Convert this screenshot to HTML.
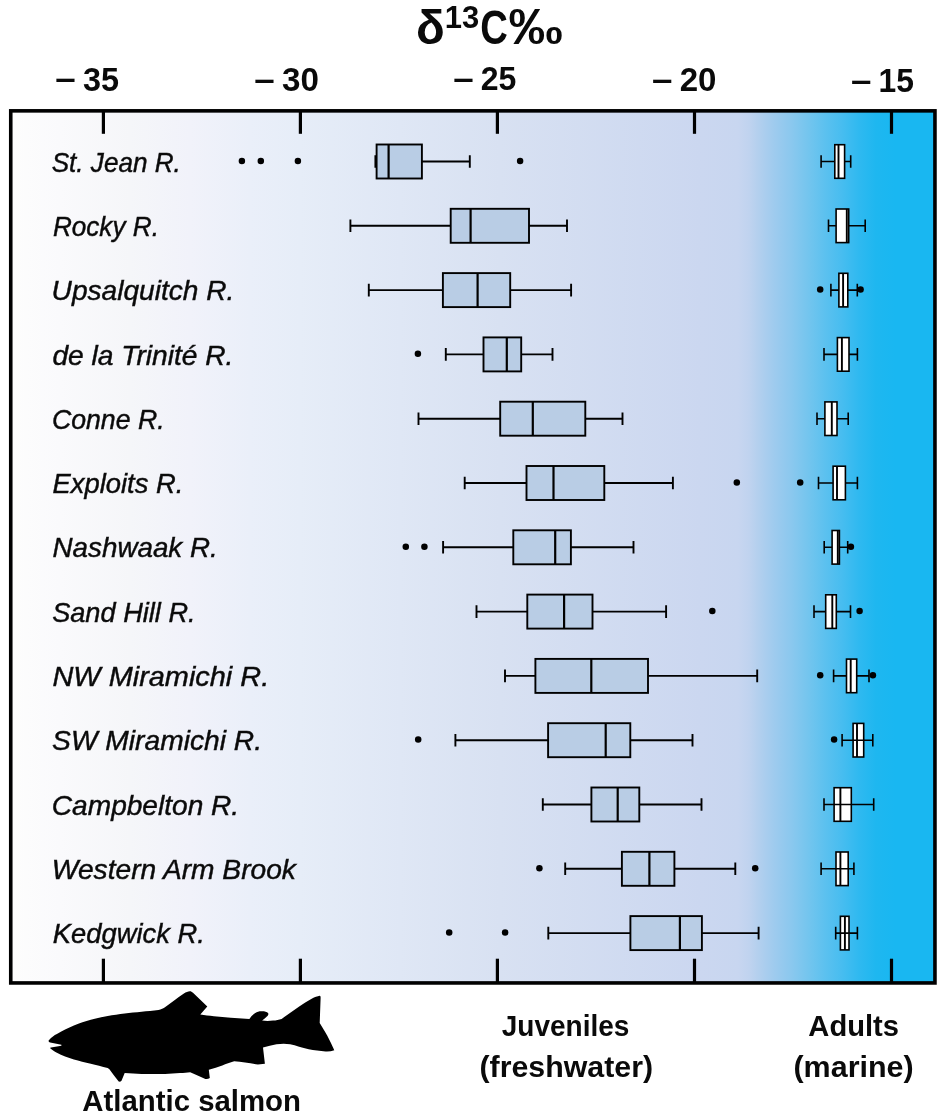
<!DOCTYPE html>
<html lang="en"><head><meta charset="utf-8"><title>δ13C‰ Atlantic salmon</title>
<style>html,body{margin:0;padding:0;background:#fff}svg{display:block}text{font-family:"Liberation Sans",sans-serif;fill:#0a0a0a}.b{font-weight:bold}.i{font-style:italic}</style></head><body>
<svg width="945" height="1120" viewBox="0 0 945 1120">
<defs><linearGradient id="g" gradientUnits="userSpaceOnUse" x1="10" y1="0" x2="935" y2="0">
<stop offset="0.0000" stop-color="#fdfdfd"/>
<stop offset="0.0541" stop-color="#fafafc"/>
<stop offset="0.1297" stop-color="#f5f6f9"/>
<stop offset="0.1946" stop-color="#f1f2fa"/>
<stop offset="0.2595" stop-color="#eaeff9"/>
<stop offset="0.3135" stop-color="#e6edf8"/>
<stop offset="0.5297" stop-color="#d8e1f2"/>
<stop offset="0.7459" stop-color="#cbd7f0"/>
<stop offset="0.7870" stop-color="#c8d6f0"/>
<stop offset="0.7989" stop-color="#c0d3ef"/>
<stop offset="0.8076" stop-color="#b5d0ee"/>
<stop offset="0.8259" stop-color="#9fcbee"/>
<stop offset="0.8443" stop-color="#8bc8ee"/>
<stop offset="0.8627" stop-color="#74c5ee"/>
<stop offset="0.8811" stop-color="#5cc1ef"/>
<stop offset="0.8995" stop-color="#47bdf0"/>
<stop offset="0.9178" stop-color="#2fb9f0"/>
<stop offset="0.9362" stop-color="#1eb7f0"/>
<stop offset="0.9568" stop-color="#19b7f1"/>
<stop offset="1.0000" stop-color="#19b7f1"/>
</linearGradient></defs>
<rect x="0" y="0" width="945" height="1120" fill="#fff"/>
<rect x="10.75" y="110.85" width="924.2" height="872.1" fill="url(#g)" stroke="#000" stroke-width="3.6"/>
<line x1="103.4" y1="110.8" x2="103.4" y2="133.8" stroke="#000" stroke-width="3.2"/>
<line x1="103.4" y1="958.7" x2="103.4" y2="983" stroke="#000" stroke-width="3.2"/>
<line x1="300.4" y1="110.8" x2="300.4" y2="133.8" stroke="#000" stroke-width="3.2"/>
<line x1="300.4" y1="958.7" x2="300.4" y2="983" stroke="#000" stroke-width="3.2"/>
<line x1="497.4" y1="110.8" x2="497.4" y2="133.8" stroke="#000" stroke-width="3.2"/>
<line x1="497.4" y1="958.7" x2="497.4" y2="983" stroke="#000" stroke-width="3.2"/>
<line x1="694.5" y1="110.8" x2="694.5" y2="133.8" stroke="#000" stroke-width="3.2"/>
<line x1="694.5" y1="958.7" x2="694.5" y2="983" stroke="#000" stroke-width="3.2"/>
<line x1="891.5" y1="110.8" x2="891.5" y2="133.8" stroke="#000" stroke-width="3.2"/>
<line x1="891.5" y1="958.7" x2="891.5" y2="983" stroke="#000" stroke-width="3.2"/>
<text class="b"><tspan x="55.39" y="89.4" font-size="33.3" textLength="20.44" lengthAdjust="spacingAndGlyphs">–</tspan><tspan> </tspan><tspan x="83.06" y="90.8" font-size="33.3" textLength="36.05" lengthAdjust="spacingAndGlyphs">35</tspan></text>
<text class="b"><tspan x="254.39" y="89.6" font-size="33.3" textLength="20.44" lengthAdjust="spacingAndGlyphs">–</tspan><tspan> </tspan><tspan x="282.04" y="91.0" font-size="33.3" textLength="36.92" lengthAdjust="spacingAndGlyphs">30</tspan></text>
<text class="b"><tspan x="453.29" y="88.8" font-size="33.3" textLength="20.44" lengthAdjust="spacingAndGlyphs">–</tspan><tspan> </tspan><tspan x="480.69" y="90.2" font-size="33.3" textLength="35.60" lengthAdjust="spacingAndGlyphs">25</tspan></text>
<text class="b"><tspan x="651.99" y="89.9" font-size="33.3" textLength="20.44" lengthAdjust="spacingAndGlyphs">–</tspan><tspan> </tspan><tspan x="679.65" y="91.3" font-size="33.3" textLength="36.80" lengthAdjust="spacingAndGlyphs">20</tspan></text>
<text class="b"><tspan x="850.99" y="90.6" font-size="33.3" textLength="20.44" lengthAdjust="spacingAndGlyphs">–</tspan><tspan> </tspan><tspan x="878.60" y="92.0" font-size="33.3" textLength="35.39" lengthAdjust="spacingAndGlyphs">15</tspan></text>
<text class="b"><tspan x="416.11" y="43.9" font-size="49" textLength="28.79" lengthAdjust="spacingAndGlyphs">δ</tspan><tspan x="444.75" y="28.0" font-size="31.4" textLength="34.47" lengthAdjust="spacingAndGlyphs">13</tspan><tspan x="480.13" y="43.6" font-size="47.3" textLength="27.61" lengthAdjust="spacingAndGlyphs">C</tspan><tspan x="508.51" y="44.2" font-size="49.5" textLength="54.27" lengthAdjust="spacingAndGlyphs">‰</tspan></text>
<text class="i" x="51.66" y="171.8" font-size="28" textLength="129.14" lengthAdjust="spacingAndGlyphs" stroke="#111" stroke-width="0.45">St. Jean R.</text>
<text class="i" x="52.90" y="236.1" font-size="28" textLength="106.01" lengthAdjust="spacingAndGlyphs" stroke="#111" stroke-width="0.45">Rocky R.</text>
<text class="i" x="51.60" y="300.3" font-size="28" textLength="182.74" lengthAdjust="spacingAndGlyphs" stroke="#111" stroke-width="0.45">Upsalquitch R.</text>
<text class="i" x="52.45" y="364.6" font-size="28" textLength="181.00" lengthAdjust="spacingAndGlyphs" stroke="#111" stroke-width="0.45">de la Trinité R.</text>
<text class="i" x="51.93" y="428.9" font-size="28" textLength="112.74" lengthAdjust="spacingAndGlyphs" stroke="#111" stroke-width="0.45">Conne R.</text>
<text class="i" x="52.56" y="493.1" font-size="28" textLength="130.80" lengthAdjust="spacingAndGlyphs" stroke="#111" stroke-width="0.45">Exploits R.</text>
<text class="i" x="52.55" y="557.4" font-size="28" textLength="165.16" lengthAdjust="spacingAndGlyphs" stroke="#111" stroke-width="0.45">Nashwaak R.</text>
<text class="i" x="52.13" y="621.7" font-size="28" textLength="143.50" lengthAdjust="spacingAndGlyphs" stroke="#111" stroke-width="0.45">Sand Hill R.</text>
<text class="i" x="52.51" y="686.0" font-size="28" textLength="216.73" lengthAdjust="spacingAndGlyphs" stroke="#111" stroke-width="0.45">NW Miramichi R.</text>
<text class="i" x="52.10" y="750.2" font-size="28" textLength="209.96" lengthAdjust="spacingAndGlyphs" stroke="#111" stroke-width="0.45">SW Miramichi R.</text>
<text class="i" x="51.85" y="814.5" font-size="28" textLength="187.29" lengthAdjust="spacingAndGlyphs" stroke="#111" stroke-width="0.45">Campbelton R.</text>
<text class="i" x="51.87" y="878.8" font-size="28" textLength="244.05" lengthAdjust="spacingAndGlyphs" stroke="#111" stroke-width="0.45">Western Arm Brook</text>
<text class="i" x="52.86" y="943.0" font-size="28" textLength="151.89" lengthAdjust="spacingAndGlyphs" stroke="#111" stroke-width="0.45">Kedgwick R.</text>
<text class="b" x="82.37" y="1110.6" font-size="29.8" textLength="218.65" lengthAdjust="spacingAndGlyphs">Atlantic salmon</text>
<text class="b" x="501.78" y="1036.4" font-size="29.8" textLength="127.67" lengthAdjust="spacingAndGlyphs">Juveniles</text>
<text class="b" x="479.49" y="1076.8" font-size="29.8" textLength="173.62" lengthAdjust="spacingAndGlyphs">(freshwater)</text>
<text class="b" x="808.37" y="1036.0" font-size="29.8" textLength="90.62" lengthAdjust="spacingAndGlyphs">Adults</text>
<text class="b" x="793.48" y="1076.8" font-size="29.8" textLength="120.24" lengthAdjust="spacingAndGlyphs">(marine)</text>
<rect x="376.6" y="144.5" width="45.3" height="34.0" fill="#b9cde5" stroke="#000" stroke-width="1.9"/><line x1="388.6" y1="144.5" x2="388.6" y2="178.5" stroke="#000" stroke-width="2.2"/><path d="M375.4 161.5H376.6M421.9 161.5H469.8M375.4 155.2V167.8M469.8 155.2V167.8" stroke="#000" stroke-width="1.9" fill="none"/><circle cx="241.9" cy="160.9" r="3.25" fill="#000"/><circle cx="260.8" cy="160.9" r="3.25" fill="#000"/><circle cx="297.9" cy="160.9" r="3.25" fill="#000"/><circle cx="520.1" cy="160.9" r="3.25" fill="#000"/>
<rect x="834.8" y="144.7" width="9.8" height="33.6" fill="#fff" stroke="#000" stroke-width="1.6"/><line x1="838.5" y1="144.7" x2="838.5" y2="178.3" stroke="#000" stroke-width="1.9"/><path d="M821.1 161.5H834.8M844.6 161.5H850.7M821.1 155.2V167.8M850.7 155.2V167.8" stroke="#000" stroke-width="1.6" fill="none"/>
<rect x="450.7" y="208.8" width="78.3" height="34.0" fill="#b9cde5" stroke="#000" stroke-width="1.9"/><line x1="470.6" y1="208.8" x2="470.6" y2="242.8" stroke="#000" stroke-width="2.2"/><path d="M350.4 225.8H450.7M529.0 225.8H567.0M350.4 219.5V232.1M567.0 219.5V232.1" stroke="#000" stroke-width="1.9" fill="none"/>
<rect x="836.1" y="209.0" width="12.6" height="33.6" fill="#fff" stroke="#000" stroke-width="1.6"/><line x1="846.8" y1="209.0" x2="846.8" y2="242.6" stroke="#000" stroke-width="1.9"/><path d="M828.5 225.8H836.1M848.7 225.8H865.2M828.5 219.5V232.1M865.2 219.5V232.1" stroke="#000" stroke-width="1.6" fill="none"/>
<rect x="442.9" y="273.1" width="67.3" height="34.0" fill="#b9cde5" stroke="#000" stroke-width="1.9"/><line x1="477.6" y1="273.1" x2="477.6" y2="307.1" stroke="#000" stroke-width="2.2"/><path d="M368.8 290.1H442.9M510.2 290.1H571.1M368.8 283.8V296.4M571.1 283.8V296.4" stroke="#000" stroke-width="1.9" fill="none"/>
<rect x="838.9" y="273.3" width="8.9" height="33.6" fill="#fff" stroke="#000" stroke-width="1.6"/><line x1="843.1" y1="273.3" x2="843.1" y2="306.9" stroke="#000" stroke-width="1.9"/><path d="M830.9 290.1H838.9M847.8 290.1H857.3M830.9 283.8V296.4M857.3 283.8V296.4" stroke="#000" stroke-width="1.6" fill="none"/><circle cx="820.2" cy="289.5" r="3.25" fill="#000"/><circle cx="860.6" cy="289.5" r="3.25" fill="#000"/>
<rect x="483.5" y="337.4" width="37.7" height="34.0" fill="#b9cde5" stroke="#000" stroke-width="1.9"/><line x1="506.8" y1="337.4" x2="506.8" y2="371.4" stroke="#000" stroke-width="2.2"/><path d="M445.8 354.4H483.5M521.2 354.4H552.5M445.8 348.1V360.7M552.5 348.1V360.7" stroke="#000" stroke-width="1.9" fill="none"/><circle cx="417.9" cy="353.8" r="3.25" fill="#000"/>
<rect x="837.4" y="337.6" width="11.6" height="33.6" fill="#fff" stroke="#000" stroke-width="1.6"/><line x1="841.9" y1="337.6" x2="841.9" y2="371.2" stroke="#000" stroke-width="1.9"/><path d="M824.0 354.4H837.4M849.0 354.4H857.4M824.0 348.1V360.7M857.4 348.1V360.7" stroke="#000" stroke-width="1.6" fill="none"/>
<rect x="500.2" y="401.7" width="85.1" height="34.0" fill="#b9cde5" stroke="#000" stroke-width="1.9"/><line x1="532.8" y1="401.7" x2="532.8" y2="435.7" stroke="#000" stroke-width="2.2"/><path d="M418.5 418.7H500.2M585.3 418.7H622.5M418.5 412.4V425.0M622.5 412.4V425.0" stroke="#000" stroke-width="1.9" fill="none"/>
<rect x="824.9" y="401.9" width="12.1" height="33.6" fill="#fff" stroke="#000" stroke-width="1.6"/><line x1="831.8" y1="401.9" x2="831.8" y2="435.5" stroke="#000" stroke-width="1.9"/><path d="M817.0 418.7H824.9M837.0 418.7H848.2M817.0 412.4V425.0M848.2 412.4V425.0" stroke="#000" stroke-width="1.6" fill="none"/>
<rect x="526.5" y="466.0" width="77.8" height="34.0" fill="#b9cde5" stroke="#000" stroke-width="1.9"/><line x1="553.5" y1="466.0" x2="553.5" y2="500.0" stroke="#000" stroke-width="2.2"/><path d="M464.7 483.0H526.5M604.3 483.0H672.9M464.7 476.7V489.3M672.9 476.7V489.3" stroke="#000" stroke-width="1.9" fill="none"/><circle cx="736.8" cy="482.4" r="3.25" fill="#000"/>
<rect x="833.1" y="466.2" width="12.3" height="33.6" fill="#fff" stroke="#000" stroke-width="1.6"/><line x1="837.0" y1="466.2" x2="837.0" y2="499.8" stroke="#000" stroke-width="1.9"/><path d="M818.5 483.0H833.1M845.4 483.0H857.4M818.5 476.7V489.3M857.4 476.7V489.3" stroke="#000" stroke-width="1.6" fill="none"/><circle cx="800.2" cy="482.4" r="3.25" fill="#000"/>
<rect x="513.3" y="530.3" width="57.6" height="34.0" fill="#b9cde5" stroke="#000" stroke-width="1.9"/><line x1="555.2" y1="530.3" x2="555.2" y2="564.3" stroke="#000" stroke-width="2.2"/><path d="M443.1 547.3H513.3M570.9 547.3H633.5M443.1 541.0V553.6M633.5 541.0V553.6" stroke="#000" stroke-width="1.9" fill="none"/><circle cx="405.8" cy="546.7" r="3.25" fill="#000"/><circle cx="424.4" cy="546.7" r="3.25" fill="#000"/>
<rect x="832.1" y="530.5" width="7.3" height="33.6" fill="#fff" stroke="#000" stroke-width="1.6"/><line x1="837.8" y1="530.5" x2="837.8" y2="564.1" stroke="#000" stroke-width="1.9"/><path d="M824.2 547.3H832.1M839.4 547.3H847.7M824.2 541.0V553.6M847.7 541.0V553.6" stroke="#000" stroke-width="1.6" fill="none"/><circle cx="850.9" cy="546.7" r="3.25" fill="#000"/>
<rect x="527.3" y="594.6" width="65.2" height="34.0" fill="#b9cde5" stroke="#000" stroke-width="1.9"/><line x1="564.1" y1="594.6" x2="564.1" y2="628.6" stroke="#000" stroke-width="2.2"/><path d="M476.5 611.6H527.3M592.5 611.6H666.1M476.5 605.3V617.9M666.1 605.3V617.9" stroke="#000" stroke-width="1.9" fill="none"/><circle cx="712.3" cy="611.0" r="3.25" fill="#000"/>
<rect x="825.7" y="594.8" width="10.6" height="33.6" fill="#fff" stroke="#000" stroke-width="1.6"/><line x1="832.3" y1="594.8" x2="832.3" y2="628.4" stroke="#000" stroke-width="1.9"/><path d="M814.0 611.6H825.7M836.3 611.6H850.5M814.0 605.3V617.9M850.5 605.3V617.9" stroke="#000" stroke-width="1.6" fill="none"/><circle cx="859.6" cy="611.0" r="3.25" fill="#000"/>
<rect x="535.4" y="658.9" width="112.6" height="34.0" fill="#b9cde5" stroke="#000" stroke-width="1.9"/><line x1="591.3" y1="658.9" x2="591.3" y2="692.9" stroke="#000" stroke-width="2.2"/><path d="M505.0 675.9H535.4M648.0 675.9H757.2M505.0 669.6V682.2M757.2 669.6V682.2" stroke="#000" stroke-width="1.9" fill="none"/>
<rect x="846.5" y="659.1" width="10.2" height="33.6" fill="#fff" stroke="#000" stroke-width="1.6"/><line x1="850.7" y1="659.1" x2="850.7" y2="692.7" stroke="#000" stroke-width="1.9"/><path d="M833.6 675.9H846.5M856.7 675.9H869.0M833.6 669.6V682.2M869.0 669.6V682.2" stroke="#000" stroke-width="1.6" fill="none"/><circle cx="820.2" cy="675.3" r="3.25" fill="#000"/><circle cx="872.9" cy="675.3" r="3.25" fill="#000"/>
<rect x="548.1" y="723.2" width="82.2" height="34.0" fill="#b9cde5" stroke="#000" stroke-width="1.9"/><line x1="605.7" y1="723.2" x2="605.7" y2="757.2" stroke="#000" stroke-width="2.2"/><path d="M455.4 740.2H548.1M630.3 740.2H692.5M455.4 733.9V746.5M692.5 733.9V746.5" stroke="#000" stroke-width="1.9" fill="none"/><circle cx="418.2" cy="739.6" r="3.25" fill="#000"/>
<rect x="853.1" y="723.4" width="10.6" height="33.6" fill="#fff" stroke="#000" stroke-width="1.6"/><line x1="857.0" y1="723.4" x2="857.0" y2="757.0" stroke="#000" stroke-width="1.9"/><path d="M842.1 740.2H872.8M842.1 733.9V746.5M872.8 733.9V746.5" stroke="#000" stroke-width="1.6" fill="none"/><circle cx="834.1" cy="739.6" r="3.25" fill="#000"/>
<rect x="591.4" y="787.5" width="47.9" height="34.0" fill="#b9cde5" stroke="#000" stroke-width="1.9"/><line x1="617.7" y1="787.5" x2="617.7" y2="821.5" stroke="#000" stroke-width="2.2"/><path d="M542.8 804.5H591.4M639.3 804.5H701.5M542.8 798.2V810.8M701.5 798.2V810.8" stroke="#000" stroke-width="1.9" fill="none"/>
<rect x="834.1" y="787.7" width="17.2" height="33.6" fill="#fff" stroke="#000" stroke-width="1.6"/><line x1="840.4" y1="787.7" x2="840.4" y2="821.3" stroke="#000" stroke-width="1.9"/><path d="M824.0 804.5H873.7M824.0 798.2V810.8M873.7 798.2V810.8" stroke="#000" stroke-width="1.6" fill="none"/>
<rect x="621.9" y="851.8" width="52.5" height="34.0" fill="#b9cde5" stroke="#000" stroke-width="1.9"/><line x1="649.4" y1="851.8" x2="649.4" y2="885.8" stroke="#000" stroke-width="2.2"/><path d="M565.2 868.8H621.9M674.4 868.8H735.3M565.2 862.5V875.1M735.3 862.5V875.1" stroke="#000" stroke-width="1.9" fill="none"/><circle cx="539.4" cy="868.2" r="3.25" fill="#000"/><circle cx="755.2" cy="868.2" r="3.25" fill="#000"/>
<rect x="836.0" y="852.0" width="12.2" height="33.6" fill="#fff" stroke="#000" stroke-width="1.6"/><line x1="840.4" y1="852.0" x2="840.4" y2="885.6" stroke="#000" stroke-width="1.9"/><path d="M821.1 868.8H853.9M821.1 862.5V875.1M853.9 862.5V875.1" stroke="#000" stroke-width="1.6" fill="none"/>
<rect x="630.4" y="916.1" width="71.5" height="34.0" fill="#b9cde5" stroke="#000" stroke-width="1.9"/><line x1="679.9" y1="916.1" x2="679.9" y2="950.1" stroke="#000" stroke-width="2.2"/><path d="M548.3 933.1H630.4M701.9 933.1H758.6M548.3 926.8V939.4M758.6 926.8V939.4" stroke="#000" stroke-width="1.9" fill="none"/><circle cx="449.2" cy="932.5" r="3.25" fill="#000"/><circle cx="505.1" cy="932.5" r="3.25" fill="#000"/>
<rect x="840.4" y="916.3" width="8.6" height="33.6" fill="#fff" stroke="#000" stroke-width="1.6"/><line x1="844.9" y1="916.3" x2="844.9" y2="949.9" stroke="#000" stroke-width="1.9"/><path d="M835.7 933.1H857.4M835.7 926.8V939.4M857.4 926.8V939.4" stroke="#000" stroke-width="1.6" fill="none"/>
<path d="M48.8 1040.3 C52 1037 54 1035.5 56.9 1034.1 C62 1031 68 1028 73.9 1025.6 C80 1023 85 1021.3 90.8 1019.7 C96 1018.2 102 1017 107.7 1016 C113 1015 119 1014 124.7 1013.4 C130 1012.8 136 1012.3 141.6 1011.8 C147 1011.3 153 1011 158.5 1010.1 C161 1009.5 163.5 1008.3 165.3 1007 L175.5 999.4 C178 997.5 181 995.3 183.9 993.5 C186 992.3 188 991.4 189.9 991.3 C191 991.3 192 992 193 992.8 L207.3 1006.5 L200.3 1014.6 C205 1015.3 209 1015.9 213.9 1016.3 L230.8 1017.7 L249.4 1018.9 C251 1016.5 253 1014.3 255.3 1012.9 C257 1011.8 259 1011.2 261.3 1011.2 C264 1011.1 267 1011.5 268 1012.9 C268.8 1014 268.3 1015.3 267.2 1016.3 C265.6 1017.8 263.8 1019.3 262.1 1020.6 C265.5 1021 269.5 1021 273.1 1020.6 C276 1020.3 279 1019.8 281.6 1018.9 C287 1015 293 1011 298.5 1007 C303 1003.8 307.5 1001 312.1 998.5 C314.5 997.2 317.5 996 319.7 995.7 C320.5 995.6 320.7 997 320.6 998.5 L319.7 1023.1 C322 1027 325 1031.5 327.3 1035.8 C329.8 1040.5 332.2 1045.5 334.3 1050.2 C331.5 1051.3 328.5 1051.7 325.6 1051.5 C320 1051 314 1050.3 308.7 1049.3 C302 1047.8 296 1045.6 290.1 1044.3 C285.5 1043.4 281 1043.6 276.5 1044.3 C272 1045 267.5 1046.2 263 1047.6 L264.9 1063.7 L257.9 1064.6 C250 1063.3 242 1061.5 234.2 1061.2 C230 1062.3 226 1063.9 222.3 1065.4 C218 1066.9 213.5 1068.4 208.8 1069.7 L209.8 1078.1 C208.5 1079 206.8 1079.3 205.4 1079 C200 1076.5 195 1074.3 190.2 1072.2 C187 1072.6 184 1072.9 180 1073 C175 1073.5 170 1073.8 165 1073.9 L141.6 1073.9 L124.7 1073 L121.5 1080.7 C120.8 1081.6 119.5 1081.8 118.7 1081.5 C115.5 1077.5 112.5 1073.5 109.4 1069.2 L107.7 1068 C102 1066.5 96 1065 90.8 1063.7 C85 1062.3 79 1061 73.9 1059.5 C68 1057.6 62 1055.3 56.9 1052.7 C54.5 1051.5 51.5 1049.5 50.2 1048.2 C49.8 1047.9 50.3 1047.5 51 1047.5 L61.4 1045.7 L61.4 1044.7 L50.2 1042.6 C48.9 1042.2 48.3 1041.2 48.8 1040.3 Z" fill="#000"/>
</svg></body></html>
